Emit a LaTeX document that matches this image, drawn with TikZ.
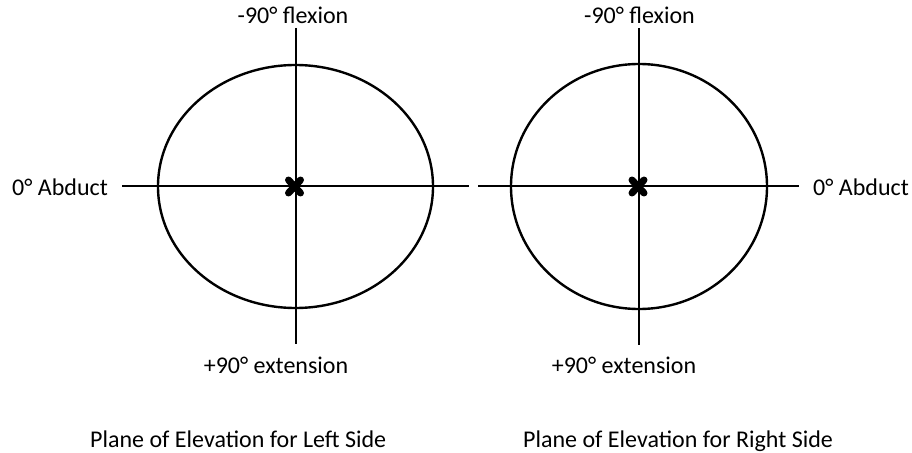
\documentclass[tikz,border=0pt]{standalone}
\usepackage{fontspec}
\setmainfont{Carlito}
\usepackage{tikz}
\usetikzlibrary{calc,positioning}

\tikzset{
  axisline/.style={black,line width=1.3pt},
  rimline/.style={black,line width=2.4pt},
  crossmark/.style={black,line width=7pt,line cap=round},
  lbl/.style={font=\fontsize{24}{28}\selectfont,inner sep=0pt}
}

\begin{document}
\begin{tikzpicture}[x=1pt,y=-1pt]
    \useasboundingbox (0,0) rectangle (912,452);

    % left side
    \coordinate (lc) at (295.5,186.5);
    \draw[rimline] (lc) ellipse [x radius=137.5,y radius=121.5];
    \node[lbl,anchor=base] (ltop) at (293,24) {-90° flexion};
    \node[lbl,anchor=base] (lbot) at (276,373) {+90° extension};
    \node[lbl,anchor=base west] (lside) at (12,195) {0° Abduct};
    \draw[axisline] (296,28) -- (296,344);
    \draw[axisline] (122,186) -- (469,186);
    \draw[crossmark] ($(lc)+(-7,-6.5)$) -- ($(lc)+(5,6.5)$);
    \draw[crossmark] ($(lc)+(-7,6.5)$) -- ($(lc)+(5,-6.5)$);

    % right side
    \coordinate (rc) at (639,186.5);
    \draw[rimline] (rc) ellipse [x radius=128,y radius=122.5];
    \node[lbl,anchor=base] (rtop) at (639.5,24) {-90° flexion};
    \node[lbl,anchor=base] (rbot) at (624,373) {+90° extension};
    \node[lbl,anchor=base west] (rside) at (813,195) {0° Abduct};
    \draw[axisline] (639,28) -- (639,345);
    \draw[axisline] (478,186) -- (799,186);
    \draw[crossmark] ($(rc)+(-7,-6.5)$) -- ($(rc)+(5,6.5)$);
    \draw[crossmark] ($(rc)+(-7,6.5)$) -- ($(rc)+(5,-6.5)$);

    % captions
    \node[lbl,anchor=base west] (lcap) at (90,447) {Plane of Elevation for Left Side};
    \node[lbl,anchor=base west] (rcap) at (523,447) {Plane of Elevation for Right Side};
  \end{tikzpicture}
\end{document}
